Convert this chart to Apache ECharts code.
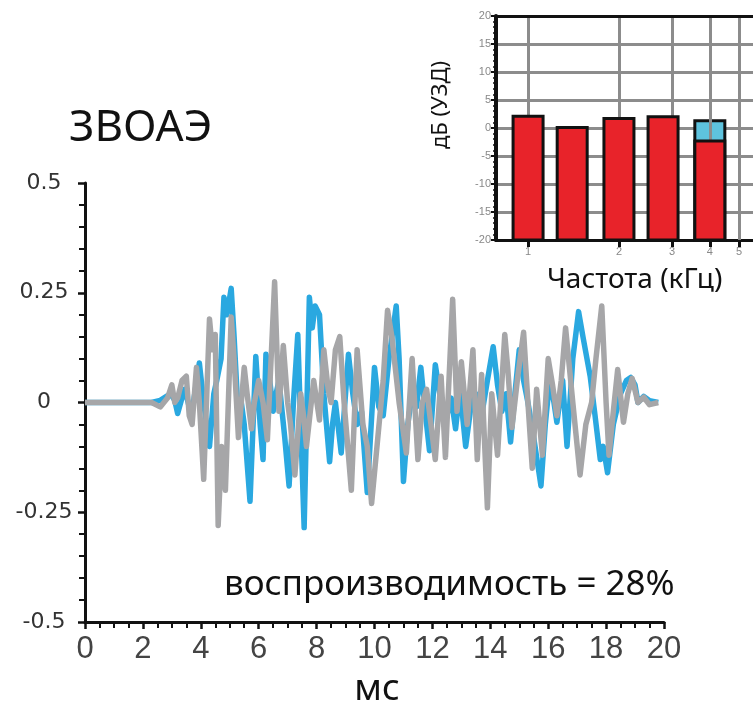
<!DOCTYPE html>
<html>
<head>
<meta charset="utf-8">
<script src="https://cdn.jsdelivr.net/npm/echarts@6.0.0/dist/echarts.min.js"></script>
<style>
  html, body { margin: 0; padding: 0; background: #fff; }
  #chart { width: 753px; height: 708px; }
</style>
</head>
<body>
<div id="chart"></div>
<script>
// waveform, ms / amplitude
const blueT = [0, 2.3, 2.6, 2.95, 3.1, 3.2, 3.35, 3.45, 3.6, 3.7, 3.95, 4.1, 4.3, 4.45, 4.55, 4.7, 4.8, 4.9, 5.05, 5.15, 5.3, 5.4, 5.5, 5.7, 5.9, 6.05, 6.15, 6.25, 6.4, 6.5, 6.6, 6.7, 6.9, 7.05, 7.2, 7.35, 7.45, 7.57, 7.75, 7.85, 7.95, 8.1, 8.25, 8.45, 8.55, 8.65, 8.85, 9.1, 9.25, 9.4, 9.55, 9.75, 10.0, 10.15, 10.3, 10.5, 10.75, 10.85, 11.0, 11.15, 11.3, 11.45, 11.6, 11.75, 11.9, 12.1, 12.3, 12.5, 12.65, 12.8, 12.95, 13.15, 13.35, 13.5, 13.7, 13.9, 14.1, 14.25, 14.4, 14.55, 14.7, 14.85, 15.0, 15.15, 15.3, 15.5, 15.75, 15.9, 16.05, 16.2, 16.3, 16.5, 16.65, 16.85, 17.05, 17.2, 17.45, 17.6, 17.8, 17.9, 18.05, 18.25, 18.5, 18.7, 18.85, 19.0, 19.1, 19.3, 19.5, 19.8]
const blueV = [0, 0, 0.005, 0.02, 0.005, -0.025, 0.01, 0.03, -0.01, -0.02, 0.09, 0.0, -0.1, 0.02, 0.05, 0.1, 0.24, 0.2, 0.26, 0.15, -0.04, 0.0, -0.05, -0.225, 0.105, -0.05, -0.13, 0.11, 0.04, -0.02, 0.02, 0.05, -0.08, -0.19, 0.0, 0.155, -0.05, -0.285, 0.24, 0.17, 0.22, 0.2, 0.02, -0.135, -0.05, 0.0, -0.115, 0.11, 0.02, -0.05, -0.02, -0.205, 0.08, -0.01, -0.03, 0.1, 0.22, 0.1, -0.18, -0.05, 0.02, -0.01, 0.08, -0.02, -0.11, 0.086, 0.0, -0.03, 0.01, -0.06, 0.03, -0.1, 0.0, 0.02, -0.03, 0.05, 0.127, 0.04, -0.02, 0.02, -0.09, 0.02, 0.12, 0.05, 0.0, -0.08, -0.19, -0.05, 0.05, 0.0, -0.045, 0.05, -0.1, 0.1, 0.207, 0.15, 0.06, -0.02, -0.13, -0.1, -0.16, -0.05, 0.02, 0.05, 0.057, 0.04, 0.0, 0.014, 0.004, 0]
const grayT = [0, 2.3, 2.6, 2.85, 3.0, 3.1, 3.2, 3.35, 3.5, 3.6, 3.7, 3.85, 3.95, 4.1, 4.3, 4.4, 4.5, 4.6, 4.72, 4.85, 5.05, 5.15, 5.3, 5.5, 5.6, 5.75, 5.85, 6.0, 6.15, 6.3, 6.55, 6.7, 6.85, 7.0, 7.1, 7.25, 7.45, 7.55, 7.65, 7.9, 8.1, 8.25, 8.4, 8.5, 8.65, 8.8, 8.95, 9.2, 9.4, 9.6, 9.75, 9.9, 10.15, 10.3, 10.45, 10.6, 10.85, 11.1, 11.3, 11.5, 11.65, 11.8, 11.95, 12.1, 12.3, 12.45, 12.7, 12.85, 13.0, 13.2, 13.4, 13.55, 13.7, 13.9, 14.05, 14.25, 14.5, 14.6, 14.75, 14.95, 15.15, 15.3, 15.45, 15.6, 15.8, 16.0, 16.15, 16.3, 16.45, 16.6, 16.85, 17.1, 17.3, 17.5, 17.65, 17.85, 18.0, 18.1, 18.25, 18.4, 18.6, 18.75, 18.9, 19.1, 19.3, 19.5, 19.8]
const grayV = [0, 0, -0.01, 0.01, 0.04, 0.0, 0.01, 0.05, 0.06, -0.03, -0.05, 0.08, 0.0, -0.175, 0.19, 0.12, 0.155, -0.28, -0.1, -0.2, 0.195, 0.1, -0.08, 0.08, 0.02, -0.06, 0.0, 0.05, 0.0, -0.085, 0.275, -0.02, 0.13, 0.0, -0.05, -0.165, 0.02, -0.03, -0.1, 0.05, -0.04, 0.12, 0.03, 0.0, 0.12, 0.15, 0.0, -0.2, 0.12, -0.05, -0.1, -0.23, -0.055, 0.05, 0.21, 0.15, 0.0, -0.115, 0.1, -0.13, 0.0, 0.03, -0.05, -0.13, 0.06, -0.125, 0.235, -0.02, 0.093, -0.05, 0.12, -0.13, 0.064, -0.24, 0.02, -0.12, 0.155, 0.08, -0.057, 0.06, 0.16, 0.0, -0.15, 0.03, -0.12, 0.1, 0.04, -0.03, 0.05, 0.17, 0.0, -0.165, -0.05, 0.0, 0.1, 0.22, 0.0, -0.12, -0.02, 0.075, -0.045, 0.02, 0.055, 0.0, 0.012, -0.005, 0]

// inset: half-octave bands, kHz / dB
const bandFreq = [1, 1.4, 2, 2.8, 4]
const bandDb = [2.1, 0.1, 1.7, 2.0, -2.3]
const noiseFreq = [4]
const noiseDb = [1.3]
const freqTicks = [1, 2, 3, 4, 5]

const chart = echarts.init(document.getElementById('chart'))

const barItem = (fill) => (params, api) => {
  const base = api.coord([api.value(0), -20])
  const top = api.coord([api.value(0), api.value(1)])
  const w = 30
  return {
    type: 'rect',
    shape: { x: base[0] - w / 2, y: top[1], width: w, height: base[1] - top[1] },
    style: { fill: fill, stroke: '#111', lineWidth: 3 }
  }
}

const txt = (text, x, y, size, align, extra) => Object.assign({
  type: 'text', x: x, y: y, silent: true,
  style: { text: text, font: size + 'px "Noto Sans"', fill: '#111', textAlign: align || 'left', textVerticalAlign: 'middle' }
}, extra || {})

chart.setOption({
  animation: false,
  grid: [
    { left: 85, top: 183, right: 89, bottom: 86 },
    { left: 496, top: 16, right: 0, height: 224 }
  ],
  xAxis: [{
    gridIndex: 0, type: 'value', min: 0, max: 20, interval: 2,
    axisLine: { onZero: false, lineStyle: { color: '#111', width: 3 } },
    axisTick: { length: 7, lineStyle: { color: '#111', width: 2.5 } },
    minorTick: { show: true, splitNumber: 4, length: 6, lineStyle: { color: '#111', width: 2 } },
    axisLabel: { fontSize: 31, fontFamily: 'Liberation Sans', color: '#444', margin: 12 },
    splitLine: { show: false }
  }, {
    gridIndex: 1, type: 'log', logBase: 10, min: 0.783, max: 5.56,
    axisLine: { onZero: false, lineStyle: { color: '#111', width: 3 } },
    axisTick: { customValues: freqTicks, length: 7, lineStyle: { color: '#111', width: 3 } },
    axisLabel: { customValues: freqTicks, fontSize: 11, color: '#888', margin: 6 },
    splitLine: { show: false }
  }],
  yAxis: [{
    gridIndex: 0, type: 'value', min: -0.5, max: 0.5, interval: 0.25,
    axisLine: { show: true, onZero: false, lineStyle: { color: '#111', width: 3 } },
    axisTick: { show: true, length: 7, lineStyle: { color: '#111', width: 2.5 } },
    minorTick: { show: true, splitNumber: 5, length: 6, lineStyle: { color: '#111', width: 2 } },
    axisLabel: { fontSize: 22, fontFamily: 'DejaVu Sans', color: '#333', align: 'center', margin: 41 },
    splitLine: { show: false }
  }, {
    gridIndex: 1, type: 'value', min: -20, max: 20, interval: 5,
    axisLine: { show: true, onZero: false, lineStyle: { color: '#111', width: 4 } },
    axisTick: { show: true, length: 5, lineStyle: { color: '#111', width: 2 } },
    minorTick: { show: true, splitNumber: 5, length: 3, lineStyle: { color: '#111', width: 1.5 } },
    axisLabel: { fontSize: 11, color: '#888', margin: 5 },
    splitLine: { show: true, lineStyle: { color: '#8c8c8c', width: 3 } }
  }],
  series: [{
    type: 'line', xAxisIndex: 0, yAxisIndex: 0, z: 2,
    data: blueT.map((t, i) => [t, blueV[i]]),
    showSymbol: false, lineStyle: { color: '#2aa8e0', width: 5.5, join: 'round' }
  }, {
    type: 'line', xAxisIndex: 0, yAxisIndex: 0, z: 3,
    data: grayT.map((t, i) => [t, grayV[i]]),
    showSymbol: false, lineStyle: { color: '#a6a6a8', width: 5.5, join: 'round' }
  }, {
    // inset grid verticals + top frame
    type: 'line', xAxisIndex: 1, yAxisIndex: 1, z: 1, data: [],
    markLine: {
      silent: true, symbol: 'none', label: { show: false },
      lineStyle: { color: '#8c8c8c', width: 3, type: 'solid' },
      data: freqTicks.map(f => ({ xAxis: f })).concat([{ yAxis: 20, lineStyle: { color: '#111', width: 3, type: 'solid' } }])
    }
  }, {
    type: 'custom', xAxisIndex: 1, yAxisIndex: 1, z: 4,
    data: noiseFreq.map((f, i) => [f, noiseDb[i]]),
    renderItem: barItem('#5ec3de')
  }, {
    type: 'custom', xAxisIndex: 1, yAxisIndex: 1, z: 5,
    data: bandFreq.map((f, i) => [f, bandDb[i]]),
    renderItem: barItem('#e8232a')
  }],
  graphic: [
    txt('ЗВОАЭ', 69, 128, 44),
    txt('воспроизводимость = 28%', 224, 585, 35),
    txt('мс', 377, 690, 36, 'center'),
    txt('Частота (кГц)', 547, 280, 28),
    txt('дБ (УЗД)', 441, 105, 22, 'center', { rotation: Math.PI / 2 })
  ]
})
</script>
</body>
</html>
